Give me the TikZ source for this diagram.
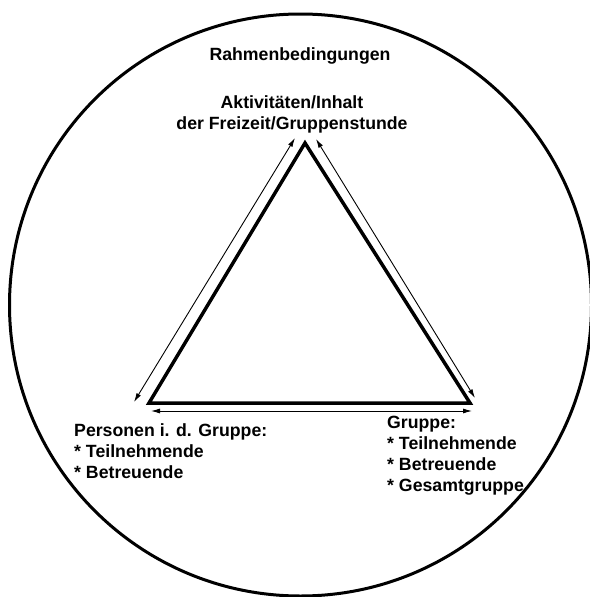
\documentclass[tikz,border=0pt]{standalone}
\usepackage{fontspec}
\setmainfont{Liberation Sans}
\usetikzlibrary{arrows.meta}

\begin{document}
\begin{tikzpicture}[x=1pt, y=-1pt,
    lbl/.style={font=\fontsize{17.7}{21}\selectfont\bfseries, inner sep=0pt},
    side/.style={line width=3.5pt, line join=miter},
    arr/.style={{Latex[length=9pt,width=5pt]}-{Latex[length=9pt,width=5pt]}, line width=0.9pt}
]
    \useasboundingbox (0,0) rectangle (589,597);
    % outer frame
    \draw[line width=3pt] (300.5,305) circle [radius=291];
    \node[lbl, anchor=base] (frame) at (300,60.7) {Rahmenbedingungen};
    % triangle corners
    \coordinate (top) at (305,143);
    \coordinate (bl)  at (149,403);
    \coordinate (br)  at (470,403);
    \draw[side] (top) -- (bl) -- (br) -- cycle;
    % arrow ends
    \coordinate (la1) at (134,402);
    \coordinate (la2) at (295,138);
    \coordinate (ra1) at (316,139);
    \coordinate (ra2) at (475,398);
    \coordinate (ba1) at (151,411);
    \coordinate (ba2) at (472,411);
    \draw[arr] (la1) -- (la2);
    \draw[arr] (ra1) -- (ra2);
    \draw[arr] (ba1) -- (ba2);
    % corner labels
    \node[lbl, align=center, anchor=north] (act) at (292,95) {Aktivitäten/Inhalt\\der Freizeit/Gruppenstunde};
    \node[lbl, align=left, anchor=north west] (pers) at (74,423) {Personen i. d. Gruppe:\\* Teilnehmende\\* Betreuende};
    \node[lbl, align=left, anchor=north west] (grp) at (387,416) {Gruppe:\\* Teilnehmende\\* Betreuende\\* Gesamtgruppe};
\end{tikzpicture}
\end{document}
